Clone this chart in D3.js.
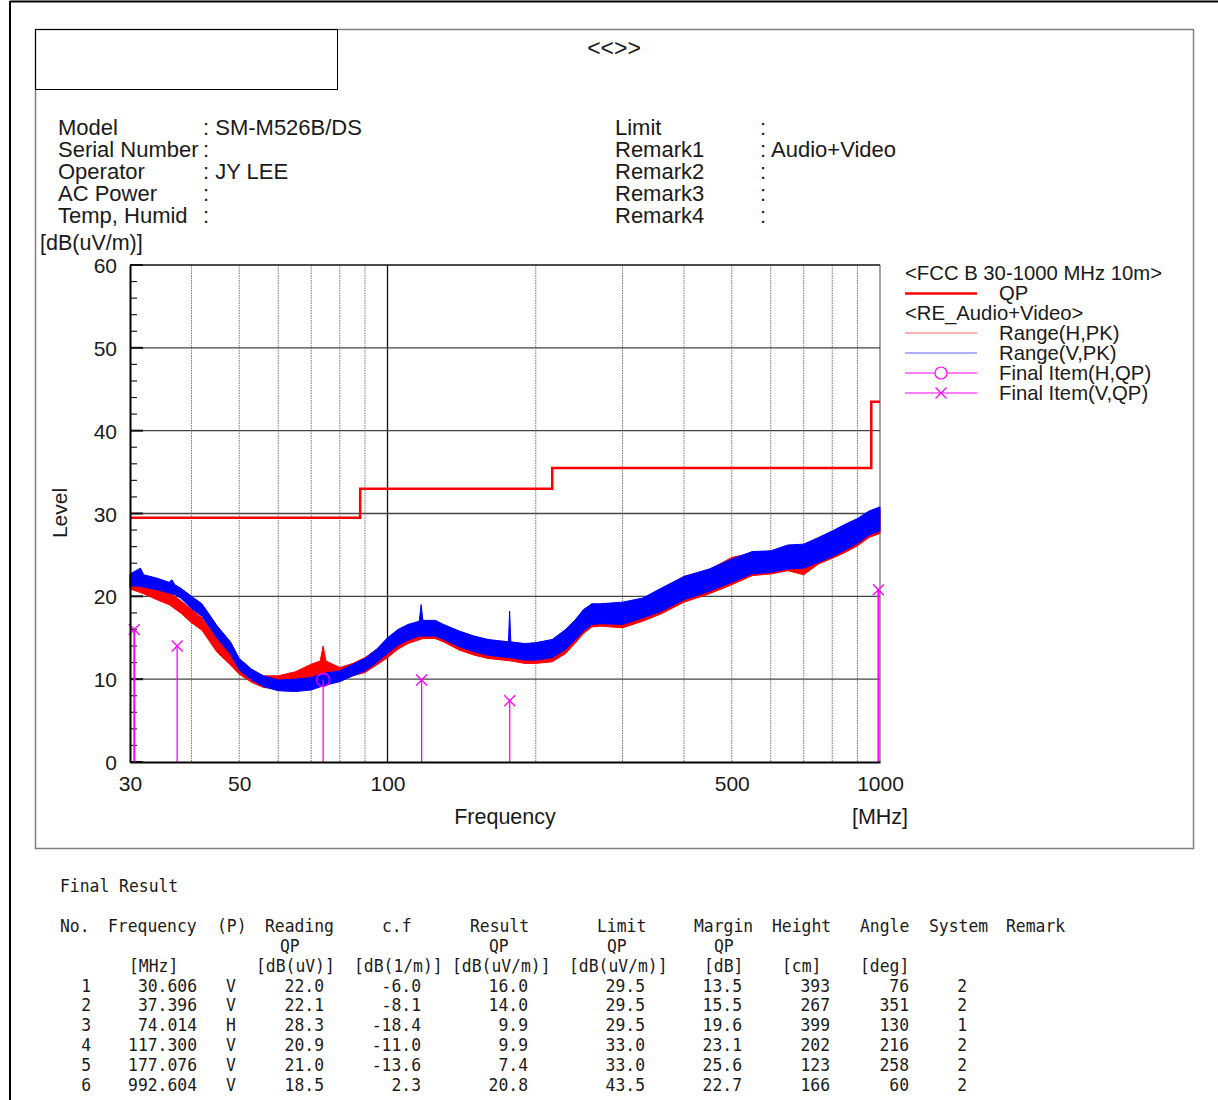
<!DOCTYPE html>
<html><head><meta charset="utf-8">
<script src="https://cdn.jsdelivr.net/npm/d3@7/dist/d3.min.js"></script>
<style>
body{margin:0;background:#fff;}
svg{display:block;}
text{font-family:"Liberation Sans",Arial,sans-serif;fill:#1a1a1a;}
.mono{font-family:"DejaVu Sans Mono","Liberation Mono",monospace;font-size:18px;}
</style></head>
<body>
<svg id="c" width="1218" height="1100"></svg>
<script>
// ---------- data ----------
const headerLeftLabels = ["Model","Serial Number","Operator","AC Power","Temp, Humid"];
const headerLeftValues = ["SM-M526B/DS","","JY LEE","",""];
const headerRightLabels = ["Limit","Remark1","Remark2","Remark3","Remark4"];
const headerRightValues = ["","Audio+Video","","",""];

const yTicks = [0,10,20,30,40,50,60];
const xTickLabels = [30,50,100,500,1000];
const xGridMinor = [40,50,60,70,80,90,200,300,400,500,600,700,800,900];

const limitFreq = [30,88,216,960,1000];
const limitQP = [29.5,33.0,35.5,43.5,43.5];

// Range(V,PK) envelope (blue)
const vFreq = [30,31.5,32,34,36,36.5,37,38,40,42,45,48,50,53,56,60,65,70,74,80,85,90,95,100,105,110,116,117,118,125,130,140,150,160,176,177,178,190,200,216,230,240,250,260,270,300,330,360,400,450,500,550,600,650,700,750,800,850,900,950,1000];
const vLo   = [21.3,21.2,21.1,20.8,20.4,20.3,20.2,19.8,18.5,17.6,15.0,13.0,11.1,9.9,9.1,8.6,8.5,8.7,9.2,9.7,10.4,11.0,12.0,13.1,14.1,14.7,15.2,15.2,15.2,15.2,14.8,13.9,13.3,12.9,12.6,12.6,12.6,12.3,12.3,12.6,13.6,14.7,15.8,16.6,16.7,16.6,17.4,18.2,19.6,20.6,21.7,22.7,22.9,23.3,23.4,24.1,24.8,25.6,26.4,27.4,27.9];
const vHi   = [22.7,23.4,22.6,22.2,21.7,22.0,21.4,21.0,20.0,19.1,16.5,14.5,12.5,11.2,10.4,9.9,10.0,10.2,10.7,11.0,11.8,12.5,13.6,15.0,16.0,16.6,17.0,19.0,17.1,17.1,16.6,15.8,15.2,14.8,14.5,18.2,14.5,14.3,14.4,14.8,16.0,17.1,18.4,19.1,19.1,19.3,19.8,21.0,22.4,23.3,24.5,25.4,25.5,26.2,26.3,27.1,27.9,28.7,29.4,30.3,30.8];

// Range(H,PK) envelope (red)
const hFreq = [30,32,34,36,38,40,42,45,48,50,53,56,60,65,70,73,74,75,80,85,90,95,100,105,110,118,125,130,140,150,160,178,190,200,216,230,240,250,260,270,300,330,360,400,450,500,550,600,650,700,750,800,850,900,950,1000];
const hLo   = [20.9,20.3,19.6,19.0,18.0,16.8,15.9,13.3,11.7,10.6,9.6,9.0,8.8,9.2,9.8,10.1,10.1,10.1,9.9,10.4,10.8,11.7,12.6,13.6,14.3,14.9,14.9,14.5,13.5,12.9,12.5,12.2,11.9,11.9,12.1,13.1,14.3,15.5,16.3,16.4,16.2,17.0,17.9,19.3,20.3,21.4,22.5,22.7,23.1,22.6,23.9,24.6,25.3,26.1,27.1,27.6];
const hHi   = [22.3,21.8,21.0,20.5,19.5,18.4,17.4,14.9,13.2,12.0,11.0,10.4,10.4,10.9,11.8,12.2,14.0,12.2,11.4,11.9,12.6,13.6,14.8,15.8,16.4,16.9,16.9,16.5,15.7,15.1,14.7,14.5,14.2,14.4,14.7,15.9,16.9,18.3,19.1,18.9,19.1,19.7,20.9,22.4,23.2,24.7,25.2,25.4,25.9,26.1,26.9,27.7,28.5,29.2,29.9,30.4];

// Final result table
const itemNo = [1,2,3,4,5,6];
const itemFreq = [30.606,37.396,74.014,117.300,177.076,992.604];
const itemPol = ["V","V","H","V","V","V"];
const itemReading = [22.0,22.1,28.3,20.9,21.0,18.5];
const itemCf = [-6.0,-8.1,-18.4,-11.0,-13.6,2.3];
const itemResult = [16.0,14.0,9.9,9.9,7.4,20.8];
const itemLimit = [29.5,29.5,29.5,33.0,33.0,43.5];
const itemMargin = [13.5,15.5,19.6,23.1,25.6,22.7];
const itemHeight = [393,267,399,202,123,166];
const itemAngle = [76,351,130,216,258,60];
const itemSystem = [2,2,1,2,2,2];

// ---------- drawing ----------
const svg = d3.select("#c");
const RED="#ff0000", BLUE="#0000ff", MAG="#ff00ff";

// outer page frame
svg.append("line").attr("x1",10).attr("y1",1.5).attr("x2",1218).attr("y2",1.5).attr("stroke","#000").attr("stroke-width",2);
svg.append("line").attr("x1",10).attr("y1",1).attr("x2",10).attr("y2",1100).attr("stroke","#000").attr("stroke-width",2);

// report box
svg.append("rect").attr("x",35.5).attr("y",29.5).attr("width",1158).attr("height",819).attr("fill","none").attr("stroke","#808080").attr("stroke-width",1.5);
svg.append("rect").attr("x",35.5).attr("y",29.5).attr("width",302).attr("height",60).attr("fill","none").attr("stroke","#000").attr("stroke-width",1);
svg.append("text").attr("x",614).attr("y",56).attr("text-anchor","middle").attr("font-size",23).text("<<>>");

// header info
const hdrY = i => 135 + i*22;
headerLeftLabels.forEach((t,i)=>{
  svg.append("text").attr("x",58).attr("y",hdrY(i)).attr("font-size",22).text(t);
  svg.append("text").attr("x",203).attr("y",hdrY(i)).attr("font-size",22).text(":" + (headerLeftValues[i] ? " " + headerLeftValues[i] : ""));
});
headerRightLabels.forEach((t,i)=>{
  svg.append("text").attr("x",615).attr("y",hdrY(i)).attr("font-size",22).text(t);
  svg.append("text").attr("x",760).attr("y",hdrY(i)).attr("font-size",22).text(":" + (headerRightValues[i] ? " " + headerRightValues[i] : ""));
});

// scales
const x = d3.scaleLog().domain([30,1000]).range([130,880]);
const y = d3.scaleLinear().domain([0,60]).range([762,265]);

const plot = svg.append("g");
// minor vertical grid
plot.selectAll(".vg").data(xGridMinor).join("line")
  .attr("x1",d=>x(d)).attr("x2",d=>x(d)).attr("y1",y(60)).attr("y2",y(0))
  .attr("stroke","#777").attr("stroke-width",1).attr("stroke-dasharray","1.5,1");
// 100 MHz decade line
plot.append("line").attr("x1",x(100)).attr("x2",x(100)).attr("y1",y(60)).attr("y2",y(0)).attr("stroke","#111").attr("stroke-width",1.3);
// right frame
plot.append("line").attr("x1",x(1000)).attr("x2",x(1000)).attr("y1",y(60)).attr("y2",y(0)).attr("stroke","#888").attr("stroke-width",1.5);
// horizontal grid
plot.selectAll(".hg").data(yTicks.filter(d=>d>0)).join("line")
  .attr("x1",x(30)).attr("x2",x(1000)).attr("y1",d=>y(d)).attr("y2",d=>y(d))
  .attr("stroke",d=>d===60?"#111":"#444").attr("stroke-width",1.3);

// y-axis minor ticks
const yMinor = d3.range(0,61,2).filter(d=>d%10!==0);
plot.selectAll(".ymt").data(yMinor).join("line")
  .attr("x1",x(30)).attr("x2",x(30)+7).attr("y1",d=>y(d)).attr("y2",d=>y(d)).attr("stroke","#222").attr("stroke-width",1.2);
plot.selectAll(".yMt").data(yTicks).join("line")
  .attr("x1",x(30)).attr("x2",x(30)+13).attr("y1",d=>y(d)).attr("y2",d=>y(d)).attr("stroke","#111").attr("stroke-width",2);

// axes
const yAxis = d3.axisLeft(y).tickValues(yTicks).tickSize(0).tickPadding(13);
const ya = svg.append("g").attr("transform",`translate(${x(30)},0)`).call(yAxis);
ya.select(".domain").attr("stroke","#000").attr("stroke-width",2);
ya.selectAll("text").attr("font-size",21).attr("font-family","Liberation Sans, Arial, sans-serif").attr("fill","#1a1a1a").attr("dy","0.36em");

const xAxis = d3.axisBottom(x).tickValues(xTickLabels).tickFormat(d3.format("d")).tickSize(0).tickPadding(14);
const xa = svg.append("g").attr("transform",`translate(0,${y(0)})`).call(xAxis);
xa.select(".domain").attr("stroke","#000").attr("stroke-width",2);
xa.selectAll("text").attr("font-size",21).attr("font-family","Liberation Sans, Arial, sans-serif").attr("fill","#1a1a1a");

svg.append("text").attr("x",40).attr("y",250).attr("font-size",21.5).text("[dB(uV/m)]");
svg.append("text").attr("transform","translate(67,513) rotate(-90)").attr("text-anchor","middle").attr("font-size",21).text("Level");
svg.append("text").attr("x",505).attr("y",824).attr("text-anchor","middle").attr("font-size",21.5).text("Frequency");
svg.append("text").attr("x",880).attr("y",824).attr("text-anchor","middle").attr("font-size",21.5).text("[MHz]");

// traces
function band(freq, lo, hi, color){
  const pts = freq.map((f,i)=>({f, lo:lo[i], hi:hi[i]}));
  const area = d3.area().x(d=>x(d.f)).y0(d=>y(d.lo)).y1(d=>y(d.hi));
  plot.append("path").datum(pts).attr("d",area).attr("fill",color).attr("stroke",color).attr("stroke-width",1).attr("stroke-linejoin","miter");
}
band(hFreq,hLo,hHi,RED);
band(vFreq,vLo,vHi,BLUE);

// limit line
const lim = limitFreq.map((f,i)=>[f,limitQP[i]]);
plot.append("path").datum(lim).attr("d",d3.line().x(d=>x(d[0])).y(d=>y(d[1])).curve(d3.curveStepAfter))
  .attr("fill","none").attr("stroke",RED).attr("stroke-width",2.5);

// final items
itemFreq.forEach((f,i)=>{
  const cx = x(f), cy = y(itemResult[i]);
  plot.append("line").attr("x1",cx).attr("x2",cx).attr("y1",y(0)).attr("y2",cy).attr("stroke",MAG).attr("stroke-width",(i===0||i===5)?2:1.3);
  if(itemPol[i]==="H"){
    plot.append("circle").attr("cx",cx).attr("cy",cy).attr("r",6.5).attr("fill","none").attr("stroke",MAG).attr("stroke-width",1.3);
  } else {
    const s=5.5;
    plot.append("path").attr("d",`M${cx-s},${cy-s}L${cx+s},${cy+s}M${cx-s},${cy+s}L${cx+s},${cy-s}`).attr("stroke",MAG).attr("stroke-width",1.3);
  }
});

// legend
const lg = svg.append("g");
const lx = 905;
lg.append("text").attr("x",lx).attr("y",280).attr("font-size",20.3).text("<FCC B 30-1000 MHz 10m>");
lg.append("line").attr("x1",lx).attr("x2",977).attr("y1",293.5).attr("y2",293.5).attr("stroke",RED).attr("stroke-width",2.5);
lg.append("text").attr("x",999).attr("y",300).attr("font-size",20.3).text("QP");
lg.append("text").attr("x",lx).attr("y",320).attr("font-size",20.3).text("<RE_Audio+Video>");
const legRows = [
  {y:333,c:"#ff6060",t:"Range(H,PK)",m:null},
  {y:353,c:"#6060ff",t:"Range(V,PK)",m:null},
  {y:373,c:MAG,t:"Final Item(H,QP)",m:"o"},
  {y:393,c:MAG,t:"Final Item(V,QP)",m:"x"}];
legRows.forEach(r=>{
  lg.append("line").attr("x1",lx).attr("x2",977).attr("y1",r.y).attr("y2",r.y).attr("stroke",r.c).attr("stroke-width",1.2);
  if(r.m==="o") lg.append("circle").attr("cx",941).attr("cy",r.y).attr("r",6).attr("fill","#fff").attr("stroke",MAG).attr("stroke-width",1.2);
  if(r.m==="x") lg.append("path").attr("d",`M935.5,${r.y-5.5}L946.5,${r.y+5.5}M935.5,${r.y+5.5}L946.5,${r.y-5.5}`).attr("stroke",MAG).attr("stroke-width",1.2);
  lg.append("text").attr("x",999).attr("y",r.y+7).attr("font-size",20.3).text(r.t);
});

// table
const tg = svg.append("g");
function mt(xp, yp, s, anchor){
  tg.append("text").attr("class","mono").attr("transform",`translate(${xp},${yp}) scale(0.91,1)`)
    .attr("text-anchor",anchor||"start").text(s);
}
mt(60,892,"Final Result");
const hY = 932;
[["No.",60],["Frequency",108],["(P)",217],["Reading",265],["c.f",382],["Result",470],["Limit",597],["Margin",694],["Height",772],["Angle",860],["System",929],["Remark",1006]].forEach(h=>mt(h[1],hY,h[0]));
[["QP",280],["QP",489],["QP",607],["QP",714]].forEach(h=>mt(h[1],hY+19.5,h[0]));
[["[MHz]",129],["[dB(uV)]",256],["[dB(1/m)]",354],["[dB(uV/m)]",452],["[dB(uV/m)]",569],["[dB]",704],["[cm]",782],["[deg]",860]].forEach(h=>mt(h[1],hY+39.5,h[0]));
itemNo.forEach((n,i)=>{
  const ry = 991.5 + i*19.8;
  mt(91,ry,String(n),"end");
  mt(197,ry,itemFreq[i].toFixed(3),"end");
  mt(231,ry,itemPol[i],"middle");
  mt(324,ry,itemReading[i].toFixed(1),"end");
  mt(421,ry,itemCf[i].toFixed(1),"end");
  mt(528,ry,itemResult[i].toFixed(1),"end");
  mt(645,ry,itemLimit[i].toFixed(1),"end");
  mt(742,ry,itemMargin[i].toFixed(1),"end");
  mt(830,ry,String(itemHeight[i]),"end");
  mt(909,ry,String(itemAngle[i]),"end");
  mt(967,ry,String(itemSystem[i]),"end");
});
</script>
</body></html>
